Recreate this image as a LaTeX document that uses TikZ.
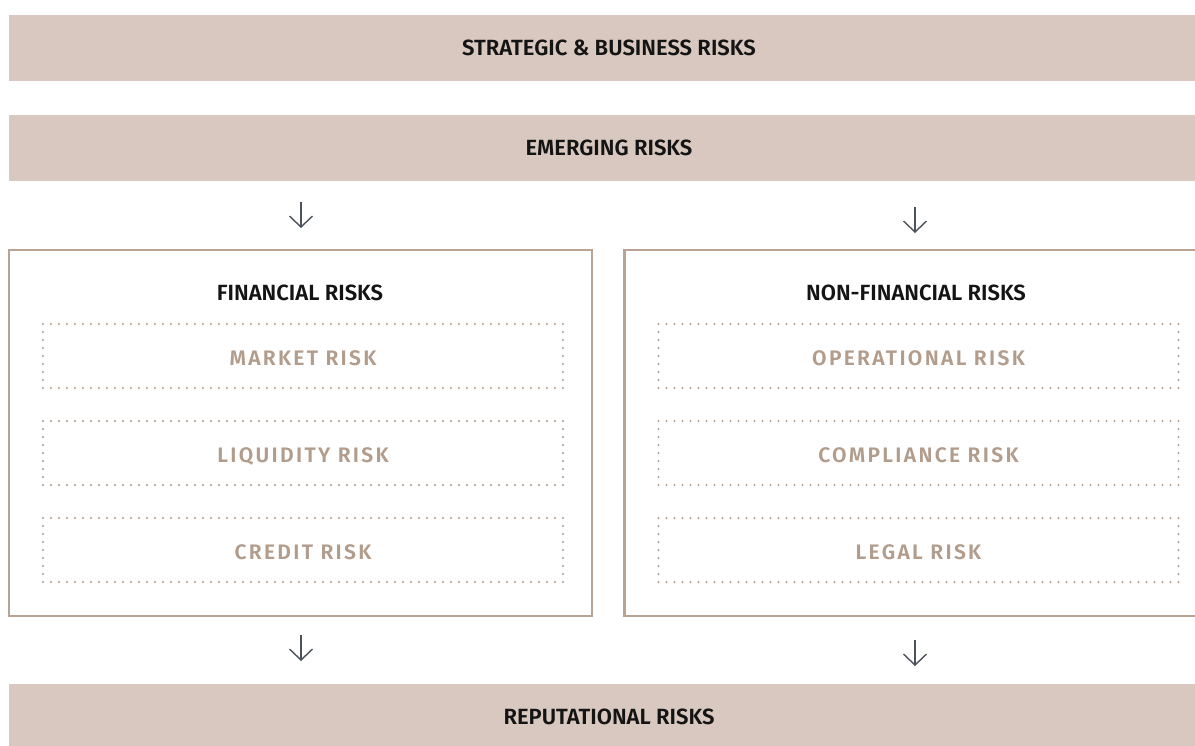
\documentclass[tikz,border=0pt]{standalone}
\usepackage{fontspec}
\setmainfont{Fira Sans}
\newfontfamily\headfont{Fira Sans SemiBold}
\newfontfamily\labfont{Fira Sans SemiBold}[LetterSpace=11]
\usetikzlibrary{arrows.meta}
\definecolor{barfill}{HTML}{D8C8BF}
\definecolor{boxline}{HTML}{B9A394}
\definecolor{labtan}{HTML}{B29C8C}
\definecolor{arrgrey}{HTML}{4D535A}
\definecolor{headtext}{HTML}{141414}
\tikzset{
  bar/.style={fill=barfill, draw=none, minimum width=1200pt, minimum height=66pt,
    inner sep=0pt, font=\headfont\fontsize{22}{22}\selectfont, text=headtext,
    text height=15.2pt, text depth=0pt},
  bigbox/.style={draw=boxline, line width=2.4pt, minimum width=583pt, minimum height=366pt, inner sep=0pt},
  headtxt/.style={font=\headfont\fontsize{22}{22}\selectfont, text=headtext, inner sep=0pt,
    text height=15.2pt, text depth=0pt},
  dotbox/.style={draw=labtan, line width=2.2pt, dash pattern=on 0pt off 8pt, line cap=round,
    minimum width=520pt, minimum height=64pt, inner sep=0pt,
    font=\labfont\fontsize{21}{21}\selectfont, text=labtan, text height=14.5pt, text depth=0pt},
  arr/.style={draw=arrgrey, line width=1.4pt, -{Straight Barb[length=11pt,width=23pt,line width=1.4pt]}}
}
\begin{document}
\begin{tikzpicture}[x=1pt,y=-1pt]
\useasboundingbox (0,0) rectangle (1195,745);
\clip (0,0) rectangle (1195,745);
\fill[white] (0,0) rectangle (1195,745);
\node[bar] (strat) at (609,47.5) {STRATEGIC \& BUSINESS RISKS};
\node[bar] (emerg) at (609,148) {EMERGING RISKS};
\node[bar] (repu) at (609,717) {REPUTATIONAL RISKS};

\node[bigbox] (fin) at (300.5,433) {};
\node[bigbox] (nonfin) at (916,433) {};

\node[headtxt] (finh) at (300,292.5) {FINANCIAL RISKS};
\node[headtxt] (nonfinh) at (916,292.5) {NON-FINANCIAL RISKS};

\node[dotbox] (market) at (303,356) {};
\node[dotbox] (liq) at (303,453) {};
\node[dotbox] (cred) at (303,550) {};
\node[dotbox] (oper) at (918.5,356) {};
\node[dotbox] (comp) at (918.5,453) {};
\node[dotbox] (legal) at (918.5,550) {};
\path (303,358) node[dotbox,draw=none] (marketl) {MARKET RISK}
      (303,455) node[dotbox,draw=none] (liql) {LIQUIDITY RISK}
      (303,552) node[dotbox,draw=none] (credl) {CREDIT RISK}
      (918.5,358) node[dotbox,draw=none] (operl) {OPERATIONAL RISK}
      (918.5,455) node[dotbox,draw=none] (compl) {COMPLIANCE RISK}
      (918.5,552) node[dotbox,draw=none] (legall) {LEGAL RISK};

\coordinate (a1s) at (301,202);
\coordinate (a1e) at (301,228);
\coordinate (a2s) at (915,207);
\coordinate (a2e) at (915,233);
\coordinate (a3s) at (301,635);
\coordinate (a3e) at (301,661);
\coordinate (a4s) at (915,640);
\coordinate (a4e) at (915,666);
\draw[arr] (a1s) -- (a1e);
\draw[arr] (a2s) -- (a2e);
\draw[arr] (a3s) -- (a3e);
\draw[arr] (a4s) -- (a4e);
\end{tikzpicture}
\end{document}
